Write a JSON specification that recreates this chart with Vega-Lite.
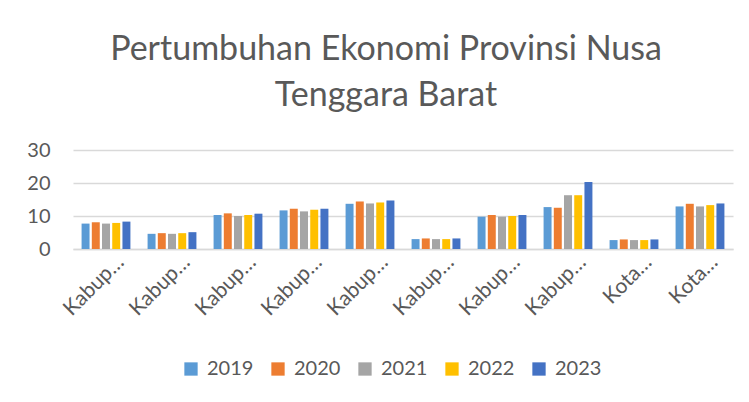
{
  "$schema": "https://vega.github.io/schema/vega-lite/v6.json",
  "width": 660,
  "height": 99,
  "autosize": {"type": "none"},
  "padding": {"left": 73, "top": 150, "right": 16, "bottom": 153},
  "background": "white",
  "title": {
    "text": ["Pertumbuhan Ekonomi Provinsi Nusa", "Tenggara Barat"],
    "font": "Lato",
    "fontSize": 34,
    "fontWeight": "normal",
    "color": "#595959",
    "lineHeight": 46,
    "anchor": "middle",
    "dx": -17,
    "offset": 27
  },
  "data": {
    "values": [
      {"wilayah": "Kabupaten Bima", "tahun": "2019", "nilai": 7.7},
      {"wilayah": "Kabupaten Bima", "tahun": "2020", "nilai": 8.1},
      {"wilayah": "Kabupaten Bima", "tahun": "2021", "nilai": 7.7},
      {"wilayah": "Kabupaten Bima", "tahun": "2022", "nilai": 7.9},
      {"wilayah": "Kabupaten Bima", "tahun": "2023", "nilai": 8.3},
      {"wilayah": "Kabupaten Dompu", "tahun": "2019", "nilai": 4.6},
      {"wilayah": "Kabupaten Dompu", "tahun": "2020", "nilai": 4.8},
      {"wilayah": "Kabupaten Dompu", "tahun": "2021", "nilai": 4.6},
      {"wilayah": "Kabupaten Dompu", "tahun": "2022", "nilai": 4.8},
      {"wilayah": "Kabupaten Dompu", "tahun": "2023", "nilai": 5.1},
      {"wilayah": "Kabupaten Lombok Barat", "tahun": "2019", "nilai": 10.3},
      {"wilayah": "Kabupaten Lombok Barat", "tahun": "2020", "nilai": 10.8},
      {"wilayah": "Kabupaten Lombok Barat", "tahun": "2021", "nilai": 10.0},
      {"wilayah": "Kabupaten Lombok Barat", "tahun": "2022", "nilai": 10.3},
      {"wilayah": "Kabupaten Lombok Barat", "tahun": "2023", "nilai": 10.7},
      {"wilayah": "Kabupaten Lombok Tengah", "tahun": "2019", "nilai": 11.7},
      {"wilayah": "Kabupaten Lombok Tengah", "tahun": "2020", "nilai": 12.2},
      {"wilayah": "Kabupaten Lombok Tengah", "tahun": "2021", "nilai": 11.4},
      {"wilayah": "Kabupaten Lombok Tengah", "tahun": "2022", "nilai": 11.9},
      {"wilayah": "Kabupaten Lombok Tengah", "tahun": "2023", "nilai": 12.2},
      {"wilayah": "Kabupaten Lombok Timur", "tahun": "2019", "nilai": 13.7},
      {"wilayah": "Kabupaten Lombok Timur", "tahun": "2020", "nilai": 14.4},
      {"wilayah": "Kabupaten Lombok Timur", "tahun": "2021", "nilai": 13.8},
      {"wilayah": "Kabupaten Lombok Timur", "tahun": "2022", "nilai": 14.1},
      {"wilayah": "Kabupaten Lombok Timur", "tahun": "2023", "nilai": 14.7},
      {"wilayah": "Kabupaten Lombok Utara", "tahun": "2019", "nilai": 3.0},
      {"wilayah": "Kabupaten Lombok Utara", "tahun": "2020", "nilai": 3.2},
      {"wilayah": "Kabupaten Lombok Utara", "tahun": "2021", "nilai": 3.0},
      {"wilayah": "Kabupaten Lombok Utara", "tahun": "2022", "nilai": 3.0},
      {"wilayah": "Kabupaten Lombok Utara", "tahun": "2023", "nilai": 3.2},
      {"wilayah": "Kabupaten Sumbawa", "tahun": "2019", "nilai": 9.8},
      {"wilayah": "Kabupaten Sumbawa", "tahun": "2020", "nilai": 10.3},
      {"wilayah": "Kabupaten Sumbawa", "tahun": "2021", "nilai": 9.8},
      {"wilayah": "Kabupaten Sumbawa", "tahun": "2022", "nilai": 10.0},
      {"wilayah": "Kabupaten Sumbawa", "tahun": "2023", "nilai": 10.3},
      {"wilayah": "Kabupaten Sumbawa Barat", "tahun": "2019", "nilai": 12.7},
      {"wilayah": "Kabupaten Sumbawa Barat", "tahun": "2020", "nilai": 12.5},
      {"wilayah": "Kabupaten Sumbawa Barat", "tahun": "2021", "nilai": 16.3},
      {"wilayah": "Kabupaten Sumbawa Barat", "tahun": "2022", "nilai": 16.3},
      {"wilayah": "Kabupaten Sumbawa Barat", "tahun": "2023", "nilai": 20.3},
      {"wilayah": "Kota Bima", "tahun": "2019", "nilai": 2.7},
      {"wilayah": "Kota Bima", "tahun": "2020", "nilai": 2.9},
      {"wilayah": "Kota Bima", "tahun": "2021", "nilai": 2.7},
      {"wilayah": "Kota Bima", "tahun": "2022", "nilai": 2.7},
      {"wilayah": "Kota Bima", "tahun": "2023", "nilai": 2.9},
      {"wilayah": "Kota Mataram", "tahun": "2019", "nilai": 12.9},
      {"wilayah": "Kota Mataram", "tahun": "2020", "nilai": 13.7},
      {"wilayah": "Kota Mataram", "tahun": "2021", "nilai": 12.9},
      {"wilayah": "Kota Mataram", "tahun": "2022", "nilai": 13.3},
      {"wilayah": "Kota Mataram", "tahun": "2023", "nilai": 13.8}
    ]
  },
  "mark": {"type": "bar"},
  "encoding": {
    "x": {
      "field": "wilayah",
      "type": "nominal",
      "sort": null,
      "scale": {"paddingInner": 0.26, "paddingOuter": 0.13},
      "axis": {
        "title": null,
        "labelAngle": -45,
        "labelExpr": "indexof(datum.label, 'Kota') == 0 ? 'Kota…' : 'Kabup…'",
        "labelFont": "Lato",
        "labelFontSize": 21,
        "labelColor": "#595959",
        "labelPadding": 2,
        "labelOffset": 7,
        "ticks": false,
        "domainColor": "#d9d9d9",
        "domainWidth": 1.3
      }
    },
    "xOffset": {"field": "tahun", "type": "nominal", "scale": {"paddingInner": 0.22}},
    "y": {
      "field": "nilai",
      "type": "quantitative",
      "scale": {"domain": [0, 30]},
      "axis": {
        "title": null,
        "values": [0, 10, 20, 30],
        "domain": false,
        "ticks": false,
        "labelPadding": 23,
        "labelFont": "Lato",
        "labelFontSize": 20,
        "labelColor": "#595959",
        "gridColor": "#d9d9d9",
        "gridWidth": 1.3
      }
    },
    "color": {
      "field": "tahun",
      "type": "nominal",
      "scale": {"range": ["#5B9BD5", "#ED7D31", "#A5A5A5", "#FFC000", "#4472C4"]},
      "legend": {
        "orient": "none",
        "direction": "horizontal",
        "legendX": 108,
        "legendY": 209,
        "title": null,
        "symbolType": "square",
        "symbolSize": 177,
        "symbolStrokeWidth": 0,
        "labelOffset": 6,
        "labelFont": "Lato",
        "labelFontSize": 20,
        "labelColor": "#595959",
        "columnPadding": 14
      }
    }
  },
  "config": {"view": {"stroke": null}}
}
